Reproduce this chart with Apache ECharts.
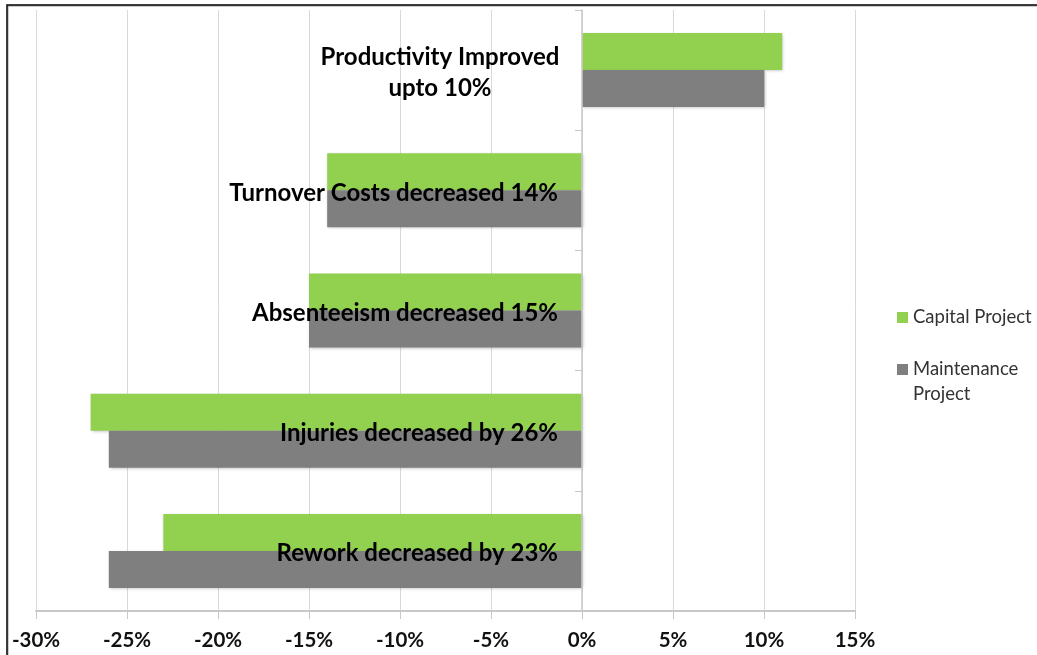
<!DOCTYPE html>
<html>
<head>
<meta charset="utf-8">
<script src="https://cdn.jsdelivr.net/npm/echarts@6/dist/echarts.min.js"></script>
<style>
  html, body { margin: 0; padding: 0; background: #fff; }
  #chart { width: 1037px; height: 655px; }
</style>
</head>
<body>
<div id="chart"></div>
<script>
// Outcome categories, listed from top to bottom
const categories = [
  'Productivity Improved\nupto 10%',
  'Turnover Costs decreased 14%',
  'Absenteeism decreased 15%',
  'Injuries decreased by 26%',
  'Rework decreased by 23%'
];
// Percent change per project type
const capitalProject = [11, -14, -15, -27, -23];
const maintenanceProject = [10, -14, -15, -26, -26];
// Value axis range and step (percent)
const axisMin = -30;
const axisMax = 15;
const axisStep = 5;

const seriesNames = ['Capital Project', 'Maintenance Project'];

const gridLeft = 36;
const gridRight = 182;
const chartWidth = 1037;

const chart = echarts.init(document.getElementById('chart'), null, { renderer: 'canvas' });

const labelFont = 'Lato, "Open Sans", sans-serif';

// Shift the category axis (line, ticks and labels) onto the 0% position
const plotWidth = chartWidth - gridLeft - gridRight;
const zeroOffset = (0 - axisMin) / (axisMax - axisMin) * plotWidth;

chart.setOption({
  animation: false,
  backgroundColor: '#ffffff',
  grid: { left: gridLeft, right: gridRight, top: 10, bottom: 44, containLabel: false, outerBoundsMode: 'none' },
  legend: {
    data: seriesNames,
    orient: 'vertical',
    left: 892,
    top: 300,
    icon: 'rect',
    itemWidth: 11,
    itemHeight: 11,
    itemGap: 2,
    textStyle: { fontFamily: labelFont, fontSize: 18.5, color: '#333', lineHeight: 25 },
    formatter: function (name) {
      // Maintenance wraps onto two lines, marker beside the first
      return name === 'Maintenance Project' ? '\nMaintenance\nProject' : name;
    }
  },
  xAxis: {
    type: 'value',
    min: axisMin,
    max: axisMax,
    interval: axisStep,
    axisLine: { show: true, lineStyle: { color: '#c8c8c8', width: 2 } },
    axisTick: { show: true, length: 8, lineStyle: { color: '#c8c8c8' } },
    splitLine: { show: true, lineStyle: { color: '#d9d9d9', width: 1 } },
    axisLabel: {
      formatter: '{value}%',
      fontFamily: labelFont,
      fontWeight: 'bold',
      fontSize: 20.5,
      color: '#111',
      margin: 19
    }
  },
  yAxis: {
    type: 'category',
    data: categories,
    inverse: true,
    position: 'left',
    offset: -zeroOffset,
    z: 10,
    axisLine: { show: true, onZero: false, lineStyle: { color: '#c8c8c8', width: 1.5 } },
    axisTick: { show: true, length: 7, lineStyle: { color: '#c8c8c8' } },
    splitLine: { show: false },
    axisLabel: {
      margin: 24,
      padding: [5, 0, 0, 0],
      fontFamily: labelFont,
      fontWeight: 'bold',
      fontSize: 24,
      color: '#000',
      formatter: function (value) {
        if (value.indexOf('\n') >= 0) {
          return value.split('\n').map(function (line) { return '{c|' + line + '}'; }).join('\n');
        }
        return '{r|' + value + '}';
      },
      rich: {
        c: { width: 236, align: 'center', fontFamily: labelFont, fontWeight: 'bold', fontSize: 24, lineHeight: 31, color: '#000' },
        r: { fontFamily: labelFont, fontWeight: 'bold', fontSize: 24, color: '#000' }
      }
    }
  },
  series: [
    {
      name: seriesNames[0],
      type: 'bar',
      data: capitalProject,
      barWidth: 37,
      barGap: '0%',
      itemStyle: {
        color: '#92d050',
        shadowColor: 'rgba(0,0,0,0.25)',
        shadowBlur: 3,
        shadowOffsetX: 1,
        shadowOffsetY: 1
      }
    },
    {
      name: seriesNames[1],
      type: 'bar',
      data: maintenanceProject,
      barWidth: 37,
      barGap: '0%',
      itemStyle: {
        color: '#7f7f7f',
        shadowColor: 'rgba(0,0,0,0.25)',
        shadowBlur: 3,
        shadowOffsetX: 1,
        shadowOffsetY: 1
      }
    }
  ],
  graphic: [
    {
      type: 'rect',
      silent: true,
      shape: { x: 8, y: 6, width: 1100, height: 700 },
      style: { fill: 'none', stroke: '#9a9a9a', lineWidth: 1 }
    },
    {
      type: 'rect',
      silent: true,
      shape: { x: 7, y: 5, width: 1100, height: 700 },
      style: { fill: 'none', stroke: '#000', lineWidth: 1.5 }
    }
  ]
});
</script>
</body>
</html>
